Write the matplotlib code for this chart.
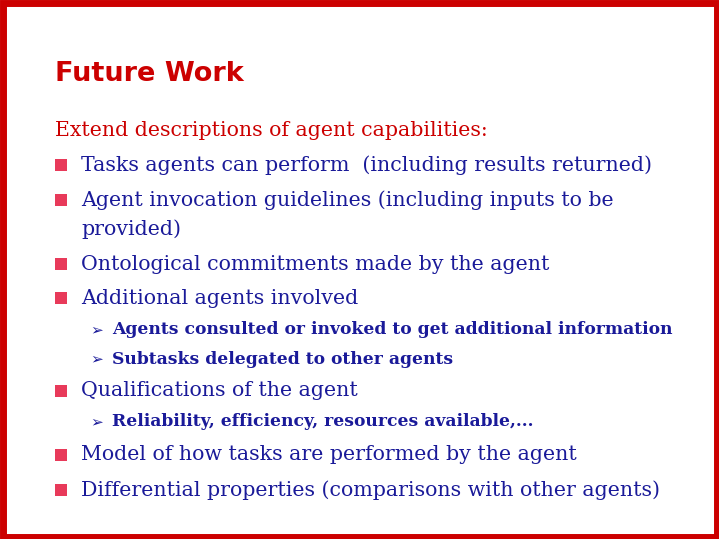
import matplotlib
matplotlib.use('Agg')
import matplotlib.pyplot as plt
from matplotlib.patches import Rectangle

title = 'Future Work'
intro = 'Extend descriptions of agent capabilities:'
# (level, text, y in px from top)
items = [
    (1, 'Tasks agents can perform  (including results returned)', 165),
    (1, 'Agent invocation guidelines (including inputs to be', 200),
    (0, 'provided)', 229),
    (1, 'Ontological commitments made by the agent', 264),
    (1, 'Additional agents involved', 298),
    (2, 'Agents consulted or invoked to get additional information', 330),
    (2, 'Subtasks delegated to other agents', 359),
    (1, 'Qualifications of the agent', 391),
    (2, 'Reliability, efficiency, resources available,...', 422),
    (1, 'Model of how tasks are performed by the agent', 455),
    (1, 'Differential properties (comparisons with other agents)', 490),
]

W, H = 719, 539
fig = plt.figure(figsize=(W/100, H/100), dpi=100)
ax = fig.add_axes([0, 0, 1, 1])
ax.set_xlim(0, W)
ax.set_ylim(H, 0)
ax.axis('off')

red = '#cc0000'
blue = '#1a1a99'
ax.add_patch(Rectangle((2.5, 2.5), W-5, H-5, fill=False, ec=red, lw=5))

ax.text(55, 74, title, color=red, fontsize=19.5, fontweight='bold',
        family='DejaVu Sans', va='center')
ax.text(55, 131, intro, color=red, fontsize=14.8, family='DejaVu Serif', va='center')

for lvl, txt, y in items:
    if lvl == 1:
        ax.add_patch(Rectangle((55, y-6), 12, 12, color='#e83a5a', lw=0))
        ax.text(81, y, txt, color=blue, fontsize=14.8, family='DejaVu Serif', va='center')
    elif lvl == 0:
        ax.text(81, y, txt, color=blue, fontsize=14.8, family='DejaVu Serif', va='center')
    else:
        ax.text(90, y, '\u27a2', color=blue, fontsize=11, family='DejaVu Sans', va='center')
        ax.text(112, y, txt, color=blue, fontsize=12.3, fontweight='semibold',
                family='DejaVu Serif', va='center')

fig.savefig('out.png', dpi=100)
